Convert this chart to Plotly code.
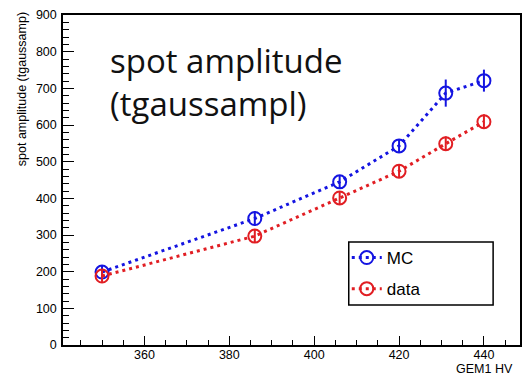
import plotly.graph_objects as go

# ---- data ----
hv = [350, 386, 406, 420, 431, 440]
mc_amp = [199, 345, 445, 543, 687, 721]
mc_err = [18, 20, 18, 18, 37, 30]
data_amp = [188, 297, 401, 474, 549, 609]
data_err = [16, 18, 18, 18, 20, 20]

series_names = ["MC", "data"]
x_title = "GEM1 HV"
y_title = "spot amplitude (tgaussamp)"
note_text = "spot amplitude<br>(tgaussampl)"

W, H = 524, 378
ML, MR, MT, MB = 63, 2, 15, 33
PW, PH = W - ML - MR, H - MT - MB

blue = "rgb(20,20,225)"
red = "rgb(225,30,35)"

def px_x(p):
    return (p - ML) / PW

def px_y(p):
    return (H - MB - p) / PH

fig = go.Figure()
for name, ys, errs, col, grp in [(series_names[0], mc_amp, mc_err, blue, "a"),
                                  (series_names[1], data_amp, data_err, red, "b")]:
    fig.add_trace(go.Scatter(
        x=hv, y=ys, name=name, mode="lines+markers", legendgroup=grp,
        line=dict(color=col, width=3, dash="3px,4px"),
        marker=dict(symbol="circle-open", size=13, color=col, line=dict(width=2, color=col)),
        error_y=dict(type="data", array=errs, visible=True, color=col, thickness=2, width=0),
    ))

tickfont = dict(family="Liberation Sans, Arial, sans-serif", size=12.5, color="black")

fig.update_layout(
    width=W, height=H,
    margin=dict(l=ML, r=MR, t=MT, b=MB),
    paper_bgcolor="white", plot_bgcolor="white",
    showlegend=True,
    legend=dict(
        x=px_x(348), y=px_y(240), xanchor="left", yanchor="top",
        borderwidth=0, bgcolor="rgba(0,0,0,0)",
        font=dict(family="Liberation Sans, Arial, sans-serif", size=17, color="black"),
        traceorder="grouped", tracegroupgap=6,
        itemwidth=30,
    ),
    xaxis=dict(
        range=[340.8, 448.5], showgrid=False, zeroline=False,
        showline=True, linecolor="black", linewidth=1.5, mirror=True,
        ticks="inside", ticklen=9, tickwidth=1.2, tickcolor="black",
        tick0=360, dtick=20, tickfont=tickfont, ticklabelstandoff=-3,
        minor=dict(ticks="inside", ticklen=5, dtick=5, tick0=360, tickcolor="black", tickwidth=1.2),
    ),
    yaxis=dict(
        range=[0, 900], showgrid=False, zeroline=False,
        showline=True, linecolor="black", linewidth=1.5, mirror=True,
        ticks="inside", ticklen=11, tickwidth=1.2, tickcolor="black",
        tick0=0, dtick=100, tickfont=tickfont, ticklabelstandoff=2,
        minor=dict(ticks="inside", ticklen=6, dtick=20, tick0=0, tickcolor="black", tickwidth=1.2),
    ),
)

# legend frame
fig.add_shape(type="rect", xref="paper", yref="paper",
              x0=px_x(350), x1=px_x(495), y0=px_y(305), y1=px_y(242),
              line=dict(color="black", width=1.5), fillcolor="rgba(0,0,0,0)", layer="above")

# big note text
fig.add_annotation(
    text=note_text, xref="paper", yref="paper",
    x=px_x(108), y=px_y(36), xanchor="left", yanchor="top",
    showarrow=False, align="left",
    font=dict(family="Open Sans, sans-serif", size=33, color="#111111"),
)
# y title
fig.add_annotation(
    text=y_title, xref="paper", yref="paper", textangle=-90,
    x=px_x(22), y=px_y(10), xanchor="center", yanchor="top",
    showarrow=False, font=dict(family="Liberation Sans, Arial, sans-serif", size=12.5, color="black"),
)
# x title
fig.add_annotation(
    text=x_title, xref="paper", yref="paper",
    x=px_x(517), y=px_y(369), xanchor="right", yanchor="middle",
    showarrow=False, font=dict(family="Liberation Sans, Arial, sans-serif", size=12.5, color="black"),
)

fig.write_html("out.html")
